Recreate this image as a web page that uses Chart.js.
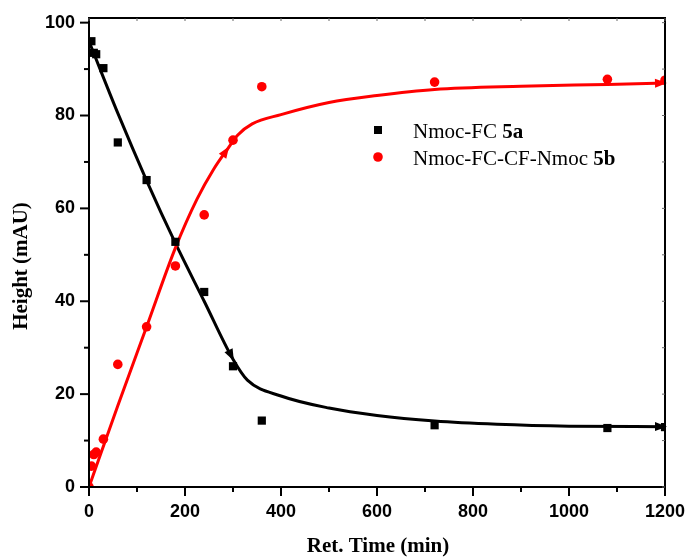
<!DOCTYPE html>
<html>
<head>
<meta charset="utf-8">
<script src="https://cdn.jsdelivr.net/npm/chart.js@4/dist/chart.umd.min.js"></script>
<style>
  html, body { margin: 0; padding: 0; background: #fff; }
  #wrap { width: 688px; height: 557px; }
</style>
</head>
<body>
<div id="wrap"><canvas id="my-chart" width="688" height="557"></canvas></div>
<script>
// measured points
const time5a = [5, 10, 15, 30, 60, 120, 180, 240, 300, 360, 720, 1080, 1200];
const height5a = [96, 93.5, 93.2, 90.2, 74.2, 66.1, 52.8, 42, 26, 14.3, 13.3, 12.7, 12.9];
const time5b = [0, 5, 10, 15, 30, 60, 120, 180, 240, 300, 360, 720, 1080, 1200];
const height5b = [0, 4.5, 7, 7.5, 10.3, 26.4, 34.5, 47.6, 58.6, 74.7, 86.2, 87.2, 87.8, 87.6];

// fitted curves
const fitTime5a = [0, 60, 120, 180, 240, 300, 330, 400, 500, 600, 720, 850, 1000, 1200];
const fit5a = [96, 80.5, 66, 52.5, 40, 27.5, 23, 19.6, 17, 15.4, 14.2, 13.5, 13.1, 13];
const fitTime5b = [0, 60, 120, 180, 225, 260, 290, 310, 340, 400, 500, 600, 720, 900, 1080, 1200];
const fit5b = [0, 17.5, 34.5, 51.5, 62, 68.5, 73, 75.8, 78.2, 80.2, 82.8, 84.3, 85.6, 86.3, 86.7, 87];

// axis ticks
const xMajor = [0, 200, 400, 600, 800, 1000, 1200];
const xMinor = [100, 300, 500, 700, 900, 1100];
const yMajor = [0, 20, 40, 60, 80, 100];
const yMinor = [10, 30, 50, 70, 90];

const legendItems = [
  { name: 'Nmoc-FC ', tag: '5a', color: '#000', style: 'rect' },
  { name: 'Nmoc-FC-CF-Nmoc ', tag: '5b', color: '#ff0000', style: 'circle' }
];

const xy = (xs, ys) => xs.map((x, i) => ({ x: x, y: ys[i] }));

const serif = '"Liberation Serif", "Times New Roman", serif';
const sans = '"Liberation Sans", Arial, sans-serif';

// arrowheads on the fit curves (dataset index -> vertex indices)
const arrowAt = { 0: [5, 13], 1: [6, 15] };

const framePlugin = {
  id: 'frame',
  afterDatasetsDraw(chart) {
    const ctx = chart.ctx;
    const { left, right, top, bottom } = chart.chartArea;
    const xs = chart.scales.x, ys = chart.scales.y;

    // arrowheads
    Object.keys(arrowAt).forEach(di => {
      const meta = chart.getDatasetMeta(+di);
      const color = chart.data.datasets[di].borderColor;
      arrowAt[di].forEach(i => {
        const p = meta.data[i], q = meta.data[i - 1];
        const a = Math.atan2(p.y - q.y, p.x - q.x);
        ctx.save();
        ctx.translate(p.x, p.y);
        ctx.rotate(a);
        ctx.fillStyle = color;
        ctx.beginPath();
        ctx.moveTo(2, 0);
        ctx.lineTo(-10, -4.5);
        ctx.lineTo(-10, 4.5);
        ctx.closePath();
        ctx.fill();
        ctx.restore();
      });
    });

    ctx.save();
    // box
    ctx.strokeStyle = '#000';
    ctx.lineWidth = 2;
    ctx.strokeRect(left, top, right - left, bottom - top);

    // outer ticks
    const tick = (x1, y1, x2, y2) => { ctx.beginPath(); ctx.moveTo(x1, y1); ctx.lineTo(x2, y2); ctx.stroke(); };
    xMajor.forEach(v => { const x = xs.getPixelForValue(v); tick(x, bottom, x, bottom + 9); });
    xMinor.forEach(v => { const x = xs.getPixelForValue(v); tick(x, bottom, x, bottom + 5); });
    yMajor.forEach(v => { const y = ys.getPixelForValue(v); tick(left, y, left - 9, y); });
    yMinor.forEach(v => { const y = ys.getPixelForValue(v); tick(left, y, left - 5, y); });

    // faint inner ticks on top and right
    ctx.strokeStyle = '#666';
    ctx.lineWidth = 1;
    xMajor.concat(xMinor).forEach(v => { const x = xs.getPixelForValue(v); tick(x, top, x, top + 3); });
    yMajor.concat(yMinor).forEach(v => { const y = ys.getPixelForValue(v); tick(right, y, right - 3, y); });

    // axis titles
    ctx.fillStyle = '#000';
    ctx.font = 'bold 21px ' + serif;
    ctx.textAlign = 'center';
    ctx.textBaseline = 'middle';
    ctx.fillText('Ret. Time (min)', 378, 547);
    ctx.save();
    ctx.translate(22, 266);
    ctx.rotate(-Math.PI / 2);
    ctx.fillText('Height (mAU)', 0, 0);
    ctx.restore();

    // legend
    ctx.textAlign = 'left';
    ctx.textBaseline = 'alphabetic';
    legendItems.forEach((it, i) => {
      const cy = 130 + i * 27;
      ctx.fillStyle = it.color;
      if (it.style === 'rect') {
        ctx.fillRect(374, cy - 4, 8, 8);
      } else {
        ctx.beginPath();
        ctx.arc(378, cy, 4.8, 0, Math.PI * 2);
        ctx.fill();
      }
      ctx.fillStyle = '#000';
      ctx.font = '21px ' + serif;
      ctx.fillText(it.name, 413, cy + 8);
      const w = ctx.measureText(it.name).width;
      ctx.font = 'bold 21px ' + serif;
      ctx.fillText(it.tag, 413 + w, cy + 8);
    });
    ctx.restore();
  }
};

const ctx = document.getElementById('my-chart').getContext('2d');
const chart = new Chart(ctx, {
  type: 'scatter',
  data: {
    datasets: [
      {
        label: 'fit 5a',
        data: xy(fitTime5a, fit5a),
        showLine: true,
        borderColor: '#000',
        borderWidth: 3,
        pointRadius: 0,
        cubicInterpolationMode: 'monotone',
        order: 3
      },
      {
        label: 'fit 5b',
        data: xy(fitTime5b, fit5b),
        showLine: true,
        borderColor: '#ff0000',
        borderWidth: 3,
        pointRadius: 0,
        cubicInterpolationMode: 'monotone',
        order: 2
      },
      {
        label: 'Nmoc-FC 5a',
        data: xy(time5a, height5a),
        pointStyle: 'rect',
        pointRadius: 5.8,
        backgroundColor: '#000',
        borderColor: '#000',
        borderWidth: 0,
        order: 1
      },
      {
        label: 'Nmoc-FC-CF-Nmoc 5b',
        data: xy(time5b, height5b),
        pointStyle: 'circle',
        pointRadius: 4.8,
        backgroundColor: '#ff0000',
        borderColor: '#ff0000',
        borderWidth: 0,
        order: 0
      }
    ]
  },
  options: {
    responsive: false,
    animation: false,
    devicePixelRatio: 1,
    layout: { padding: { top: 18, right: 23, left: 0, bottom: 0 } },
    plugins: {
      legend: { display: false },
      tooltip: { enabled: false }
    },
    scales: {
      x: {
        type: 'linear',
        min: 0,
        max: 1200,
        afterFit: s => { s.height = 70; s.paddingLeft = 0; s.paddingRight = 0; },
        afterBuildTicks: s => { s.ticks = xMajor.map(v => ({ value: v })); },
        grid: { display: false, drawTicks: false },
        border: { display: false },
        ticks: {
          padding: 14,
          maxRotation: 0,
          color: '#000',
          font: { family: sans, size: 18, weight: 'bold' },
          callback: v => String(v)
        }
      },
      y: {
        type: 'linear',
        min: 0,
        max: 101,
        afterFit: s => { s.width = 89; s.paddingTop = 0; s.paddingBottom = 0; },
        afterBuildTicks: s => { s.ticks = yMajor.map(v => ({ value: v })); },
        grid: { display: false, drawTicks: false },
        border: { display: false },
        ticks: {
          padding: 14,
          color: '#000',
          font: { family: sans, size: 18, weight: 'bold' },
          callback: v => String(v)
        }
      }
    }
  },
  plugins: [framePlugin]
});
</script>
</body>
</html>
